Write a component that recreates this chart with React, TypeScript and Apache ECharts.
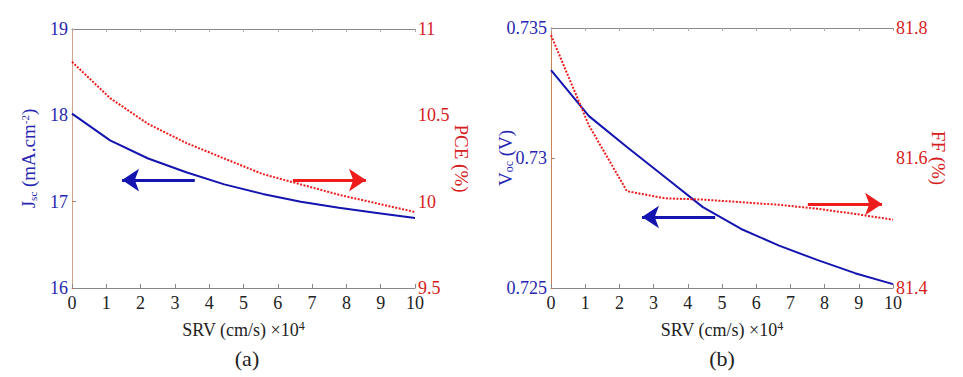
import React, { useEffect, useRef } from "react";
import * as echarts from "echarts";

const srv = [0, 1.11, 2.22, 3.33, 4.44, 5.56, 6.67, 7.78, 8.89, 10];
const jsc = [18.02, 17.71, 17.5, 17.34, 17.2, 17.09, 17.0, 16.93, 16.87, 16.81];
const pce = [10.81, 10.6, 10.45, 10.34, 10.25, 10.16, 10.1, 10.04, 9.99, 9.94];
const voc = [0.73338, 0.73161, 0.73042, 0.72927, 0.72811, 0.72727, 0.72663, 0.72608, 0.72557, 0.72515];
const ff = [81.789, 81.65, 81.549, 81.538, 81.536, 81.532, 81.528, 81.522, 81.514, 81.505];
// arrows: [xStart, xEnd, y] in data units of the left axis of each panel
const arrowJscA = [3.58, 1.46, 17.25];
const arrowPceA = [6.44, 8.57, 17.25];
const arrowVocB = [4.8, 2.66, 0.72773];
const arrowFfB = [7.51, 9.68, 0.72823];

const BLUE = "#1414b0";
const RED = "#ee1c1c";
const FONT = "Liberation Serif";

function pairs(xs: number[], ys: number[]) {
  return xs.map((x, i) => [x, ys[i]]);
}

export default function App() {
  const ref = useRef<HTMLDivElement>(null);
  useEffect(() => {
    const chart = echarts.init(ref.current!, null, { renderer: "svg" });
    const xAxisBase = (gridIndex: number) => ({
      type: "value",
      gridIndex,
      min: 0,
      max: 10,
      interval: 1,
      axisLine: { show: true, lineStyle: { color: "#888", width: 1 } },
      axisTick: { show: true, inside: true, length: 4, lineStyle: { color: "#888" } },
      axisLabel: { margin: 6, fontFamily: FONT, fontSize: 18, color: "#222" },
      splitLine: { show: false },
      name: "{a|SRV (cm/s) ×10}{s|4}",
      nameLocation: "middle",
      nameGap: 32,
      nameMoveOverlap: false,
      nameTextStyle: {
        rich: {
          a: { fontFamily: FONT, fontSize: 18, color: "#222" },
          s: { fontFamily: FONT, fontSize: 12, color: "#222", padding: [0, 0, 8, 0] },
        },
      },
    });
    const xAxisTop = (gridIndex: number) => ({
      type: "value",
      gridIndex,
      position: "top",
      min: 0,
      max: 10,
      interval: 1,
      axisLine: { show: true, lineStyle: { color: "#888", width: 1 } },
      axisTick: { show: true, inside: true, length: 3, lineStyle: { color: "#aaa" } },
      axisLabel: { show: false },
      splitLine: { show: false },
    });
    const arrowLine = (a: number[], color: string) => ({
      silent: true,
      symbol: ["none", "arrow"],
      symbolSize: [17, 17],
      label: { show: false },
      lineStyle: { color, width: 3, type: "solid" },
      data: [[{ coord: [a[0], a[2]] }, { coord: [a[1], a[2]] }]],
    });

    chart.setOption({
      animation: false,
      backgroundColor: "#fff",
      textStyle: { fontFamily: FONT },
      grid: [
        { left: 72, top: 29, width: 343, height: 259 },
        { left: 551, top: 28, width: 342, height: 260 },
      ],
      xAxis: [xAxisBase(0), xAxisBase(1), xAxisTop(0), xAxisTop(1)],
      yAxis: [
        {
          type: "value",
          gridIndex: 0,
          min: 16,
          max: 19,
          interval: 1,
          axisLine: { show: true, lineStyle: { color: "#5b9bd5" } },
          axisTick: { show: true, inside: true, length: 4, lineStyle: { color: "#5b9bd5" } },
          axisLabel: { margin: 4, fontFamily: FONT, fontSize: 18, color: "#2626b0" },
          splitLine: { show: false },
          name: "{a|J}{sub|sc}{a| (mA.cm}{sup|-2}{a|)}",
          nameLocation: "middle",
          nameRotate: 90,
          nameGap: 34,
          nameMoveOverlap: false,
          nameTextStyle: {
            rich: {
              a: { fontFamily: FONT, fontSize: 19, color: "#2626b0" },
              sub: { fontFamily: FONT, fontSize: 11, color: "#2626b0", padding: [8, 0, 0, 0] },
              sup: { fontFamily: FONT, fontSize: 11, color: "#2626b0", padding: [0, 0, 8, 0] },
            },
          },
        },
        {
          type: "value",
          gridIndex: 0,
          position: "right",
          min: 9.5,
          max: 11,
          interval: 0.5,
          axisLine: { show: true, lineStyle: { color: "#d4a58c" } },
          axisTick: { show: true, inside: false, length: 3, lineStyle: { color: "#c87850" } },
          axisLabel: { margin: 3, fontFamily: FONT, fontSize: 18, color: "#d62020" },
          splitLine: { show: false },
          name: "PCE (%)",
          nameLocation: "middle",
          nameRotate: -90,
          nameGap: 37,
          nameMoveOverlap: false,
          nameTextStyle: { fontFamily: FONT, fontSize: 19, color: "#d62020" },
        },
        {
          type: "value",
          gridIndex: 1,
          min: 0.725,
          max: 0.735,
          interval: 0.005,
          axisLine: { show: true, lineStyle: { color: "#5b9bd5" } },
          axisTick: { show: true, inside: true, length: 4, lineStyle: { color: "#5b9bd5" } },
          axisLabel: {
            fontFamily: FONT,
            fontSize: 18,
            color: "#2626b0",
            margin: 4,
            formatter: (v: number) => String(parseFloat(v.toFixed(3))),
          },
          splitLine: { show: false },
          name: "{a|V}{sub|oc}{a| (V)}",
          nameLocation: "middle",
          nameRotate: 90,
          nameGap: 36,
          nameMoveOverlap: false,
          nameTextStyle: {
            rich: {
              a: { fontFamily: FONT, fontSize: 19, color: "#2626b0" },
              sub: { fontFamily: FONT, fontSize: 12, color: "#2626b0", padding: [8, 0, 0, 0] },
            },
          },
        },
        {
          type: "value",
          gridIndex: 1,
          position: "right",
          min: 81.4,
          max: 81.8,
          interval: 0.2,
          axisLine: { show: true, lineStyle: { color: "#c8825a" } },
          axisTick: { show: true, inside: false, length: 3, lineStyle: { color: "#c87850" } },
          axisLabel: {
            fontFamily: FONT,
            fontSize: 18,
            color: "#d62020",
            margin: 3,
            formatter: (v: number) => v.toFixed(1),
          },
          splitLine: { show: false },
          name: "FF (%)",
          nameLocation: "middle",
          nameRotate: -90,
          nameGap: 36,
          nameMoveOverlap: false,
          nameTextStyle: { fontFamily: FONT, fontSize: 19, color: "#d62020" },
        },
      ],
      series: [
        {
          type: "line",
          xAxisIndex: 0,
          yAxisIndex: 0,
          data: pairs(srv, jsc),
          showSymbol: false,
          lineStyle: { color: BLUE, width: 2 },
          markLine: arrowLine(arrowJscA, BLUE),
        },
        {
          type: "line",
          xAxisIndex: 0,
          yAxisIndex: 1,
          data: pairs(srv, pce),
          showSymbol: false,
          lineStyle: { color: RED, width: 2, type: [2, 1.5] },
        },
        {
          type: "line",
          xAxisIndex: 0,
          yAxisIndex: 0,
          data: [],
          markLine: arrowLine(arrowPceA, RED),
        },
        {
          type: "line",
          xAxisIndex: 1,
          yAxisIndex: 2,
          data: pairs(srv, voc),
          showSymbol: false,
          lineStyle: { color: BLUE, width: 2 },
          markLine: arrowLine(arrowVocB, BLUE),
        },
        {
          type: "line",
          xAxisIndex: 1,
          yAxisIndex: 3,
          data: pairs(srv, ff),
          showSymbol: false,
          lineStyle: { color: RED, width: 2, type: [2, 1.5] },
        },
        {
          type: "line",
          xAxisIndex: 1,
          yAxisIndex: 2,
          data: [],
          markLine: arrowLine(arrowFfB, RED),
        },
      ],
      graphic: [
        { type: "text", x: 247, y: 358, style: { text: "(a)", fontFamily: FONT, fontSize: 22, fill: "#222", align: "center", verticalAlign: "middle" } },
        { type: "text", x: 722, y: 358, style: { text: "(b)", fontFamily: FONT, fontSize: 22, fill: "#222", align: "center", verticalAlign: "middle" } },
      ],
    });
    return () => chart.dispose();
  }, []);
  return (
    <div
      ref={ref}
      style={{ position: "fixed", left: 0, top: 0, width: 963, height: 377, background: "#fff" }}
    />
  );
}
